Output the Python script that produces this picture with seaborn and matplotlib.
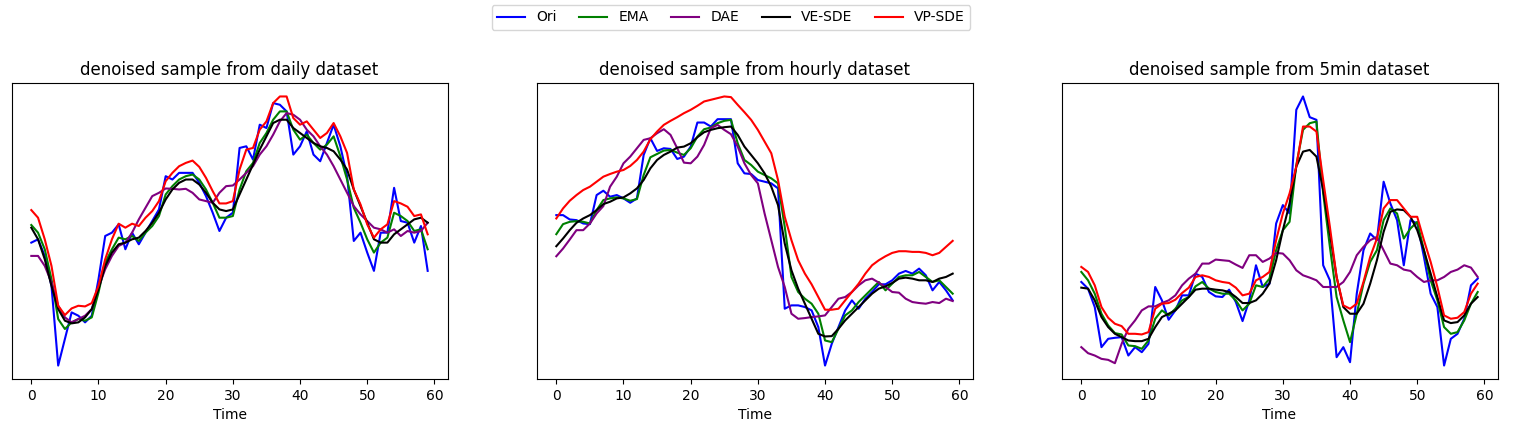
import numpy as np
import pandas as pd
import matplotlib
matplotlib.use("Agg")
import matplotlib.pyplot as plt
import seaborn as sns

# values (no y scale shown, arbitrary units)
methods = ["Ori", "EMA", "DAE", "VE-SDE", "VP-SDE"]
colors = ["blue", "green", "purple", "black", "red"]
datasets = ["daily", "hourly", "5min"]
time = np.arange(60)

daily_ori = [41, 42, 37, 28, 4, 12, 20, 19, 17, 19,
             30, 43, 44, 46.5, 39, 44, 40.5, 44, 47.5, 51,
             61, 60, 62, 62, 62, 59, 55, 50, 44.5, 48.5,
             50, 69.5, 70, 66, 76.5, 75.5, 83, 82.5, 80.5, 67.5,
             70, 74.5, 67.5, 65.5, 71, 76.5, 70, 61, 41.5, 44,
             38, 32.5, 44, 44, 57.5, 47.5, 47, 41, 46, 32.5]
daily_ema = [46.3, 44, 39, 30, 18, 15, 17, 18, 17.5, 18.5,
             26, 35, 39, 42.5, 42, 43, 41.5, 44, 46, 49,
             55.5, 58, 60, 61, 61.5, 60, 57, 53, 48.5, 48.5,
             49, 57, 62.5, 65, 71, 74, 78, 80.5, 80.5, 75,
             72, 73.5, 71, 69, 70.5, 73, 67, 60, 51.5, 47,
             42, 38, 41, 42.5, 50, 49, 47.5, 44.5, 45, 39]
daily_dae = [37, 37, 34, 29, 22, 18.5, 17, 18, 19, 21,
             27.5, 33, 37, 40, 41, 44, 48, 51.5, 55, 56,
             57.3, 57.2, 57, 57.2, 56, 54, 53.5, 53, 56, 58,
             58.2, 60, 62, 64, 67.5, 70, 73.5, 77.5, 80, 79.5,
             78, 75, 73, 70, 67.5, 64, 60, 56, 52, 49.5,
             47.5, 45.5, 45, 44, 45, 43, 44.5, 44, 44.5, 47]
daily_ve = [45.5, 42, 36, 28, 21, 17.5, 16.7, 17, 18.5, 21,
            27, 34, 38, 40.5, 41, 42, 42.5, 44.5, 47, 50,
            54, 57, 59, 60, 60, 58.5, 56, 53, 51, 50.5,
            51, 55.5, 60, 64.5, 69, 73, 77, 78, 78, 75.5,
            74, 72.5, 71, 70, 69.5, 68.5, 66, 63, 57, 52,
            47, 42, 41, 41, 43.5, 45, 46.5, 48, 48.5, 47]
daily_vp = [50.8, 48.5, 42, 34, 22, 19.2, 21.2, 22, 21.8, 22.8,
            28, 36, 42, 46.7, 45.5, 46.7, 46, 48.5, 50.5, 53.5,
            59.5, 62, 64, 65, 65.7, 63.8, 60.5, 56.5, 52.8, 52.8,
            53.5, 63, 69, 69.5, 75, 77.5, 83, 85, 85, 78.5,
            76.5, 77.5, 75, 72.5, 74, 77, 73, 68, 57, 52.5,
            46.5, 42.5, 45, 46.5, 53.5, 52.8, 51.8, 49, 49.5, 43.5]

hourly_ori = [49.5, 49.5, 48.2, 48, 47, 46.8, 55.5, 56.8, 55, 55.5,
              54.5, 53.2, 54.5, 67.5, 72.5, 68.7, 69.5, 69.3, 66.3, 67,
              70, 77.2, 77.2, 76, 78.2, 78.2, 78.2, 65, 62, 61.8,
              60, 59.5, 59, 57.5, 21.5, 22.5, 22.5, 22, 21, 16,
              4.5, 11, 16, 21, 24, 21.5, 24.5, 26.5, 28.8, 28.8,
              30, 32, 32.8, 32, 33.5, 31.5, 27, 29.5, 27, 24]
hourly_ema = [43.8, 46.8, 47.5, 47.7, 47.5, 47, 51, 54, 54.5, 54.8,
              54.5, 53.8, 54.3, 61.5, 66.8, 67.8, 68.8, 69, 68.2, 67.5,
              69.5, 73, 75.2, 75.7, 77, 77.7, 78, 71, 66, 64.5,
              62.5, 61.5, 60.5, 59, 46, 31, 26.5, 24.5, 23, 20,
              12, 11.5, 15.5, 19.5, 21, 23.5, 25.5, 27.5, 29.5, 27,
              29, 31, 31.5, 31.5, 32.5, 31, 29.5, 30, 28, 26]
hourly_dae = [37.2, 39.5, 42.2, 45, 45, 47, 50, 52.2, 58, 61,
              65, 67, 69.5, 72, 72.5, 74, 75.2, 73.5, 69.5, 65.2,
              65, 67, 70.5, 75.5, 76.5, 75, 73.7, 70, 65, 61.5,
              59, 50, 42, 34, 28, 20, 18.5, 18.7, 19, 19.2,
              19.5, 22, 24.5, 25, 26.5, 28.5, 30, 30.5, 29.3, 28,
              26.5, 26.3, 24.5, 23.5, 23.2, 23, 23.5, 23.2, 24.5, 23.8]
hourly_ve = [40.2, 42.5, 45, 47.2, 48.5, 49.5, 51, 52.8, 53.5, 54.5,
             54.8, 56, 57.5, 60, 63.5, 66, 67.5, 68.5, 69.7, 70,
             71, 72.8, 74.3, 75, 75.5, 75.8, 76, 73.5, 70, 67.5,
             65, 62, 58, 52.5, 41, 33, 27.5, 23, 18.5, 14,
             13.2, 13.3, 15.5, 18, 20, 22, 24, 26, 27.5, 28.2,
             29.2, 30.5, 30.8, 30.5, 30, 30, 29.5, 30.5, 31, 32]
hourly_vp = [48.5, 51.5, 53.8, 55.5, 57, 58, 59.5, 61, 61.8, 62.5,
             63, 64.2, 66, 68.5, 72.2, 74.5, 76.5, 77.7, 78.8, 80,
             81, 82.2, 83.5, 84, 84.5, 85, 84.8, 82.5, 80.3, 78,
             75, 71.5, 68, 60, 49, 42, 36, 32, 28.8, 25,
             21.2, 21.2, 21.5, 24, 26.5, 29, 32, 34.5, 36, 37.2,
             38.2, 38.7, 38.7, 38.5, 38.5, 38.2, 37.5, 38.2, 40, 41.8]

min5_ori = [29.5, 27.5, 22, 10, 12.5, 12.8, 13, 7.5, 10, 8.5,
            11, 28, 24, 18.2, 21, 25.5, 25.5, 32, 31, 26.5,
            25.2, 25, 27.2, 23.5, 17.8, 24, 34.5, 28, 29, 47,
            52.5, 50, 81, 85, 78.8, 78, 34.5, 30, 7, 10,
            5.5, 26, 39, 44, 42, 59.5, 53, 48, 34.5, 48,
            47, 37, 26, 22, 4.5, 12.5, 14, 18.5, 28.5, 30.5]
min5_ema = [32.5, 30, 26, 20, 16.5, 14.2, 13.8, 10.5, 10.3, 9.5,
            12, 18.5, 21, 19.5, 21.5, 24, 25, 28.2, 29.5, 27.5,
            26.5, 26, 26, 24, 21, 23, 28.5, 28, 30.5, 39,
            45, 47.5, 64.5, 75, 77, 77.5, 56, 40, 25, 18,
            11.5, 20, 29, 35.5, 39, 48, 51.5, 50, 42.5, 45.5,
            47.5, 39, 30, 24, 16, 14, 14.5, 18, 23, 26.5]
min5_dae = [10, 8.2, 7.5, 6.5, 6.2, 5.2, 11, 15.5, 18, 21,
            22.2, 22.2, 23.2, 24, 25.5, 28.5, 30.5, 32, 35, 35,
            36.2, 36, 35.8, 34.7, 33.7, 37.5, 37.5, 35.5, 36.5, 38.2,
            38, 36, 33, 31.5, 30.8, 30, 28, 28, 28, 29.5,
            32.5, 37.5, 40, 42, 43, 39, 35, 34.5, 33.2, 32.8,
            31, 29.5, 30, 30, 31, 32.5, 33.2, 34.5, 33.8, 31]
min5_ve = [27.8, 27.5, 24, 19, 16, 14, 13, 12, 11.8, 11.8,
           12.5, 16, 19, 20, 21, 23, 25, 27.2, 27.5, 27.5,
           27.2, 27, 26.5, 25, 23.2, 23.2, 24, 26, 29, 36,
           45, 53, 64, 68.5, 69, 67, 57, 44, 31, 22,
           20, 20, 23, 29, 36, 44.5, 50.5, 51.2, 51, 49,
           45, 39, 32, 25, 18, 17.2, 17.5, 19.5, 23, 25]
min5_vp = [34, 32.5, 28.5, 22, 18.8, 17, 16.3, 14, 14, 13.8,
           14.5, 21.5, 23, 23.2, 24.2, 26.2, 27.8, 31, 31.5, 31,
           30, 29.5, 29.2, 27.8, 25.5, 26, 30, 31, 32.5, 42,
           50, 56, 64, 76, 76, 74.5, 60, 46, 31, 22.5,
           21.5, 23, 29.5, 37, 42.5, 51.5, 54, 54, 51.5, 49,
           49, 42, 35.5, 28, 19.5, 18.5, 18.8, 20.5, 26, 29]

series = {
    "daily": [daily_ori, daily_ema, daily_dae, daily_ve, daily_vp],
    "hourly": [hourly_ori, hourly_ema, hourly_dae, hourly_ve, hourly_vp],
    "5min": [min5_ori, min5_ema, min5_dae, min5_ve, min5_vp],
}

fig = plt.figure(figsize=(15.15, 4.23), dpi=100)
lefts = [11.5, 536.5, 1061.5]
axes = []
for i, ds in enumerate(datasets):
    ax = fig.add_axes([lefts[i] / 1515, 44 / 423, 436 / 1515, 296 / 423])
    rows = []
    for m, vals in zip(methods, series[ds]):
        for t, v in zip(time, vals):
            rows.append({"Time": t, "value": v, "method": m})
    df = pd.DataFrame(rows)
    sns.lineplot(data=df, x="Time", y="value", hue="method", hue_order=methods,
                 palette=colors, linewidth=1.5, ax=ax, legend=(i == 0))
    ax.set_title("denoised sample from %s dataset" % ds, fontsize=12)
    ax.set_xlabel("Time")
    ax.set_ylabel("")
    ax.set_yticks([])
    ax.set_xticks([0, 10, 20, 30, 40, 50, 60])
    axes.append(ax)

handles, labels = axes[0].get_legend_handles_labels()
axes[0].get_legend().remove()
fig.legend(handles, labels, loc="upper center", ncol=5, columnspacing=1.65,
           bbox_to_anchor=(0.4825, 1.005), fontsize=10)

fig.savefig("out.png", dpi=100)
